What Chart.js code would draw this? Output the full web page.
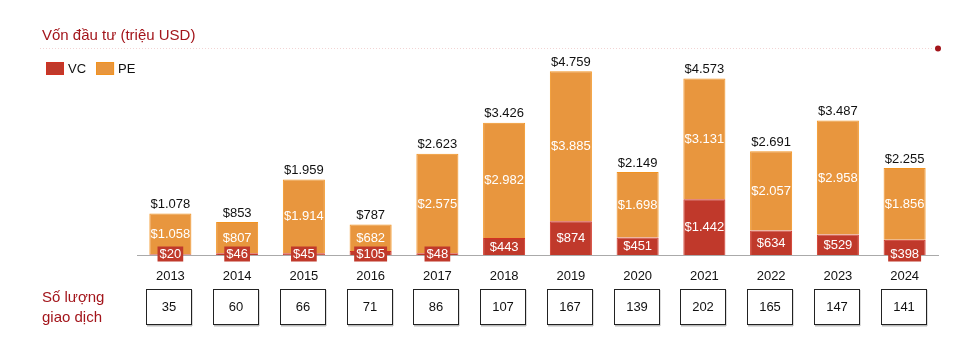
<!DOCTYPE html>
<html>
<head>
<meta charset="utf-8">
<script src="https://cdn.jsdelivr.net/npm/chart.js@4/dist/chart.umd.min.js"></script>
<style>
  html, body { margin: 0; padding: 0; background: #fff; }
  #wrap { position: relative; width: 971px; height: 337px; }
</style>
</head>
<body>
<div id="wrap"><canvas id="chart"></canvas></div>
<script>
const years = ['2013', '2014', '2015', '2016', '2017', '2018', '2019', '2020', '2021', '2022', '2023', '2024'];
const vc = [20, 46, 45, 105, 48, 443, 874, 451, 1442, 634, 529, 398];
const pe = [1058, 807, 1914, 682, 2575, 2982, 3885, 1698, 3131, 2057, 2958, 1856];
const totals = [1078, 853, 1959, 787, 2623, 3426, 4759, 2149, 4573, 2691, 3487, 2255];
const deals = [35, 60, 66, 71, 86, 107, 167, 139, 202, 165, 147, 141];

const FONT = "'Liberation Sans', Arial, Helvetica, sans-serif";
const DARK_RED = '#a3151b';

// 1078 -> $1.078
const money = (v) => '$' + String(v).replace(/\B(?=(\d{3})+(?!\d))/g, '.');

const decor =
{
    id: 'decor',
    afterDatasetsDraw(chart)
    {
        const ctx = chart.ctx;
        const xs = chart.scales.x;
        ctx.save();

        // titre + ligne pointillée
        ctx.fillStyle = DARK_RED;
        ctx.font = '15px ' + FONT;
        ctx.textBaseline = 'middle';
        ctx.textAlign = 'left';
        ctx.fillText('Vốn đầu tư (triệu USD)', 42, 36);

        ctx.strokeStyle = '#f2d4d4';
        ctx.lineWidth = 1;
        ctx.setLineDash([1, 2]);
        ctx.beginPath();
        ctx.moveTo(40, 48.5);
        ctx.lineTo(934, 48.5);
        ctx.stroke();
        ctx.setLineDash([]);
        ctx.fillStyle = DARK_RED;
        ctx.beginPath();
        ctx.arc(938, 48.5, 3, 0, Math.PI * 2);
        ctx.fill();

        // légende
        let lx = 46;
        ctx.font = '13px ' + FONT;
        chart.data.datasets.forEach((ds) =>
        {
            ctx.fillStyle = ds.backgroundColor;
            ctx.fillRect(lx, 62, 18, 13);
            ctx.strokeStyle = ds.borderColor;
            ctx.strokeRect(lx + 0.5, 62.5, 17, 12);
            ctx.fillStyle = '#111';
            ctx.fillText(ds.label, lx + 22, 69);
            lx += 22 + ctx.measureText(ds.label).width + 10;
        });

        // étiquettes des segments
        ctx.textAlign = 'center';
        chart.data.datasets.forEach((ds, di) =>
        {
            const meta = chart.getDatasetMeta(di);
            meta.data.forEach((bar, i) =>
            {
                const h = bar.base - bar.y;
                const txt = money(ds.data[i]);
                let y = bar.y + h / 2;
                if (h < 16)
                {
                    y = bar.base - 1;
                    const w = ctx.measureText(txt).width + 4;
                    ctx.fillStyle = ds.backgroundColor;
                    ctx.fillRect(bar.x - w / 2, y - 7.5, w, 15);
                }
                ctx.fillStyle = '#fff';
                ctx.fillText(txt, bar.x, y + 0.5);
            });
        });

        // totaux
        const top = chart.getDatasetMeta(1);
        ctx.fillStyle = '#111';
        top.data.forEach((bar, i) =>
        {
            ctx.fillText(money(totals[i]), bar.x, bar.y - 9);
        });

        // nombre de transactions
        ctx.fillStyle = DARK_RED;
        ctx.font = '15px ' + FONT;
        ctx.textAlign = 'left';
        ctx.fillText('Số lượng', 42, 298);
        ctx.fillText('giao dịch', 42, 318);

        ctx.font = '13px ' + FONT;
        ctx.textAlign = 'center';
        deals.forEach((n, i) =>
        {
            const cx = Math.round(xs.getPixelForValue(i)) - 1;
            ctx.fillStyle = '#bbb';
            ctx.fillRect(cx - 22, 325, 45, 1.5);
            ctx.fillRect(cx + 22.5, 290, 1, 36);
            ctx.strokeStyle = '#222';
            ctx.lineWidth = 1;
            ctx.strokeRect(cx - 22.5, 289.5, 45, 35);
            ctx.fillStyle = '#111';
            ctx.fillText(String(n), cx, 307.5);
        });

        ctx.restore();
    }
};

new Chart(document.getElementById('chart'),
{
    type: 'bar',
    data:
    {
        labels: years,
        datasets:
        [
            {
                label: 'VC',
                data: vc,
                backgroundColor: '#c0392b',
                borderColor: '#d13222',
                borderWidth: 1,
                borderSkipped: 'bottom'
            },
            {
                label: 'PE',
                data: pe,
                backgroundColor: '#e8963e',
                borderColor: '#f29320',
                borderWidth: 1,
                borderSkipped: 'bottom'
            }
        ]
    },
    options:
    {
        responsive: true,
        maintainAspectRatio: false,
        animation: false,
        barPercentage: 0.63,
        categoryPercentage: 1,
        layout: { padding: { left: 137, right: 33, top: 62, bottom: 52 } },
        plugins:
        {
            legend: { display: false },
            tooltip: { enabled: false }
        },
        scales:
        {
            x:
            {
                stacked: true,
                grid: { display: false, drawTicks: false },
                border: { display: true, color: '#aaa', width: 1 },
                ticks: { color: '#111', font: { family: FONT, size: 13 }, padding: 14, maxRotation: 0 },
                afterFit: (s) => { s.height = 30; }
            },
            y:
            {
                stacked: true,
                display: false,
                min: 0,
                max: 5000
            }
        }
    },
    plugins: [decor]
});
</script>
</body>
</html>
